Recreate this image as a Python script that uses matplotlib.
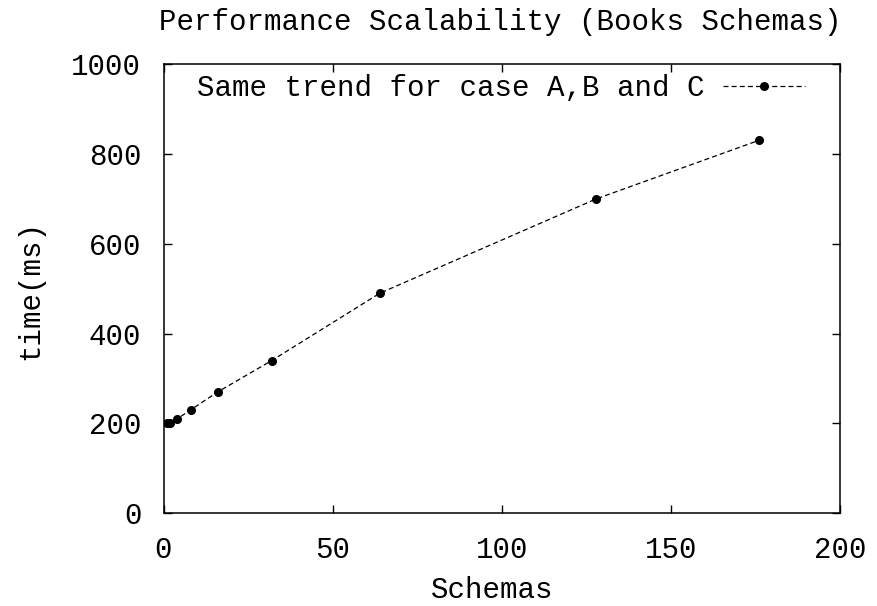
import matplotlib
matplotlib.use("Agg")
import matplotlib.pyplot as plt

# data
schemas = [1, 2, 4, 8, 16, 32, 64, 128, 176]
time_ms = [200, 200, 210, 230, 270, 340, 490, 700, 830]

x_ticks = [0, 50, 100, 150, 200]
y_ticks = [0, 200, 400, 600, 800, 1000]

plt.rcParams['font.family'] = ['Liberation Mono', 'DejaVu Sans Mono']
fs = 21

fig = plt.figure(figsize=(8.78, 6.06), dpi=100)
ax = fig.add_axes([163.5 / 878, 1 - 513.3 / 606, (840 - 163.5) / 878, (513.3 - 64) / 606])

ax.plot(schemas, time_ms, color="black", linestyle="--", dashes=(4, 2.5),
        linewidth=0.9, marker="o", markersize=5.5,
        label="Same trend for case A,B and C")

ax.set_xlim(0, 200)
ax.set_ylim(0, 1000)
ax.set_xticks(x_ticks)
ax.set_yticks(y_ticks)
ax.tick_params(direction="in", length=6, width=1, top=True, right=True,
               labelsize=fs, pad=16)
for s in ax.spines.values():
    s.set_linewidth(1.1)

leg = ax.legend(loc="upper right", bbox_to_anchor=(0.948, 0.977), frameon=False,
                markerfirst=False, fontsize=fs, borderaxespad=0, borderpad=0,
                handlelength=2.8, handletextpad=0.65, numpoints=1)

fig.text(0.57, 1 - 22 / 606, "Performance Scalability (Books Schemas)",
         ha="center", va="center", fontsize=fs)
fig.text(492 / 878, 1 - 590 / 606, "Schemas", ha="center", va="center", fontsize=fs)
fig.text(30 / 878, 1 - 290 / 606, "time(ms)", ha="center", va="center",
         rotation=90, fontsize=fs)

fig.savefig("out.png", dpi=100)
